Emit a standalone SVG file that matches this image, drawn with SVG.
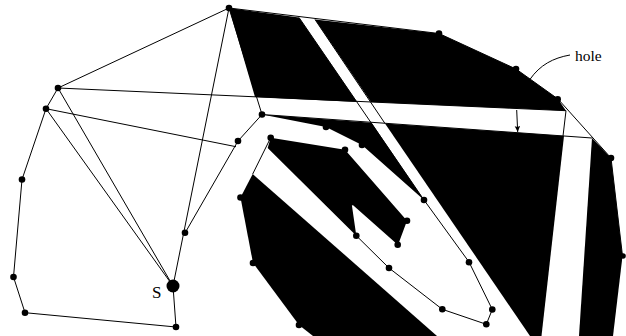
<svg xmlns="http://www.w3.org/2000/svg" width="626" height="336" viewBox="0 0 626 336">
<style>
.r{fill:#000;stroke:none}
.c{fill:none;stroke:#000;stroke-width:1}
.n{fill:#000}
.t{font-family:"Liberation Serif",serif;fill:#000}
</style>
<defs><marker id="a" markerUnits="userSpaceOnUse" markerWidth="8" markerHeight="8" refX="6" refY="2.7" orient="auto"><path d="M0 0L6 2.7L0 5.4L1 2.7Z" fill="#000"/></marker></defs>
<rect width="626" height="336" fill="#fff"/>
<g id="regions">
<polygon class="r" points="229,8 299,17.5 357,102 255,97"/>
<polygon class="r" points="315,19.5 439,33.5 516,69 558,99 566,110.7 371,102"/>
<polygon class="r" points="262,114.5 371.5,122.7 424,200 362,145 326,127"/>
<polygon class="r" points="385,123.5 564,136 541.5,336 530,336"/>
<polygon class="r" points="592,138 611,158 622.5,256 613,336 579,336"/>
<polygon class="r" points="270.7,137.7 345,149.7 407,220.7 398,245 351.7,204 356.3,235.7 267.7,148"/>
<polygon class="r" points="252.7,174 437,336 313,336 299,325 253,263 240.5,197.5"/>
</g>
<g id="connectors">
<path class="c" d="M229 8L58 88L46 108.7L22 179.5L13.5 277L25 312.7L176 327L173 286L229 8L262 114.5L238 141L185 233"/>
<path class="c" d="M58 88L173 286M46 108.7L173 286M46 108.7L236 146.7M58 88L566 110.7M229 8L439 33.5L516 69L558 99L611 158L622.5 256"/>
<path class="c" d="M262 114.5L592 138M566 110.7L563 136M299 17.5L424 200L469 262L492.3 309.5L486.3 324.3L442.3 309.3L389 268L356.3 235.7M315 19.5L385 123.5M270.7 137.7L252.7 174"/>
<path class="c" marker-end="url(#a)" d="M516.7 110L517.7 132"/>
<path class="c" d="M530 79.3C540 65 553 58 570 55"/>
</g>
<g id="n-s"><circle class="n" cx="173" cy="286" r="6.5"/><text class="t" x="152" y="298" font-size="17">S</text></g>
<g id="n-hole"><text class="t" x="575" y="61" font-size="15.5">hole</text></g>
<g id="n1"><circle class="n" cx="229" cy="8" r="3.3"/></g>
<g id="n2"><circle class="n" cx="58" cy="88" r="3.3"/></g>
<g id="n3"><circle class="n" cx="46" cy="108.7" r="3.3"/></g>
<g id="n4"><circle class="n" cx="22" cy="179.5" r="3.3"/></g>
<g id="n5"><circle class="n" cx="13.5" cy="277" r="3.3"/></g>
<g id="n6"><circle class="n" cx="25" cy="312.7" r="3.3"/></g>
<g id="n7"><circle class="n" cx="176" cy="327" r="3.3"/></g>
<g id="n8"><circle class="n" cx="185" cy="232.7" r="3.3"/></g>
<g id="n9"><circle class="n" cx="238" cy="141" r="3.3"/></g>
<g id="n10"><circle class="n" cx="262" cy="114.5" r="3.3"/></g>
<g id="n11"><circle class="n" cx="270.7" cy="137.7" r="3.3"/></g>
<g id="n12"><circle class="n" cx="326" cy="127" r="3.3"/></g>
<g id="n13"><circle class="n" cx="362" cy="145" r="3.3"/></g>
<g id="n14"><circle class="n" cx="345" cy="149.7" r="3.3"/></g>
<g id="n15"><circle class="n" cx="424" cy="200" r="3.3"/></g>
<g id="n16"><circle class="n" cx="407" cy="220.7" r="3.3"/></g>
<g id="n17"><circle class="n" cx="397.7" cy="244.7" r="3.3"/></g>
<g id="n18"><circle class="n" cx="351.7" cy="204" r="1.5"/></g>
<g id="n19"><circle class="n" cx="356.3" cy="235.7" r="3.3"/></g>
<g id="n20"><circle class="n" cx="389" cy="268" r="3.3"/></g>
<g id="n21"><circle class="n" cx="442.3" cy="309.3" r="3.3"/></g>
<g id="n22"><circle class="n" cx="486.3" cy="324.3" r="3.3"/></g>
<g id="n23"><circle class="n" cx="492.3" cy="309.5" r="3.3"/></g>
<g id="n24"><circle class="n" cx="469" cy="262.3" r="3.3"/></g>
<g id="n25"><circle class="n" cx="439" cy="33.5" r="3.3"/></g>
<g id="n26"><circle class="n" cx="516" cy="69" r="3.3"/></g>
<g id="n27"><circle class="n" cx="557.7" cy="99.3" r="3.3"/></g>
<g id="n28"><circle class="n" cx="611" cy="158" r="3.3"/></g>
<g id="n29"><circle class="n" cx="623" cy="256" r="2.8"/></g>
<g id="n30"><circle class="n" cx="240.5" cy="197.5" r="3.3"/></g>
<g id="n31"><circle class="n" cx="253" cy="263" r="3.3"/></g>
<g id="n32"><circle class="n" cx="299" cy="325" r="3.3"/></g>
</svg>
